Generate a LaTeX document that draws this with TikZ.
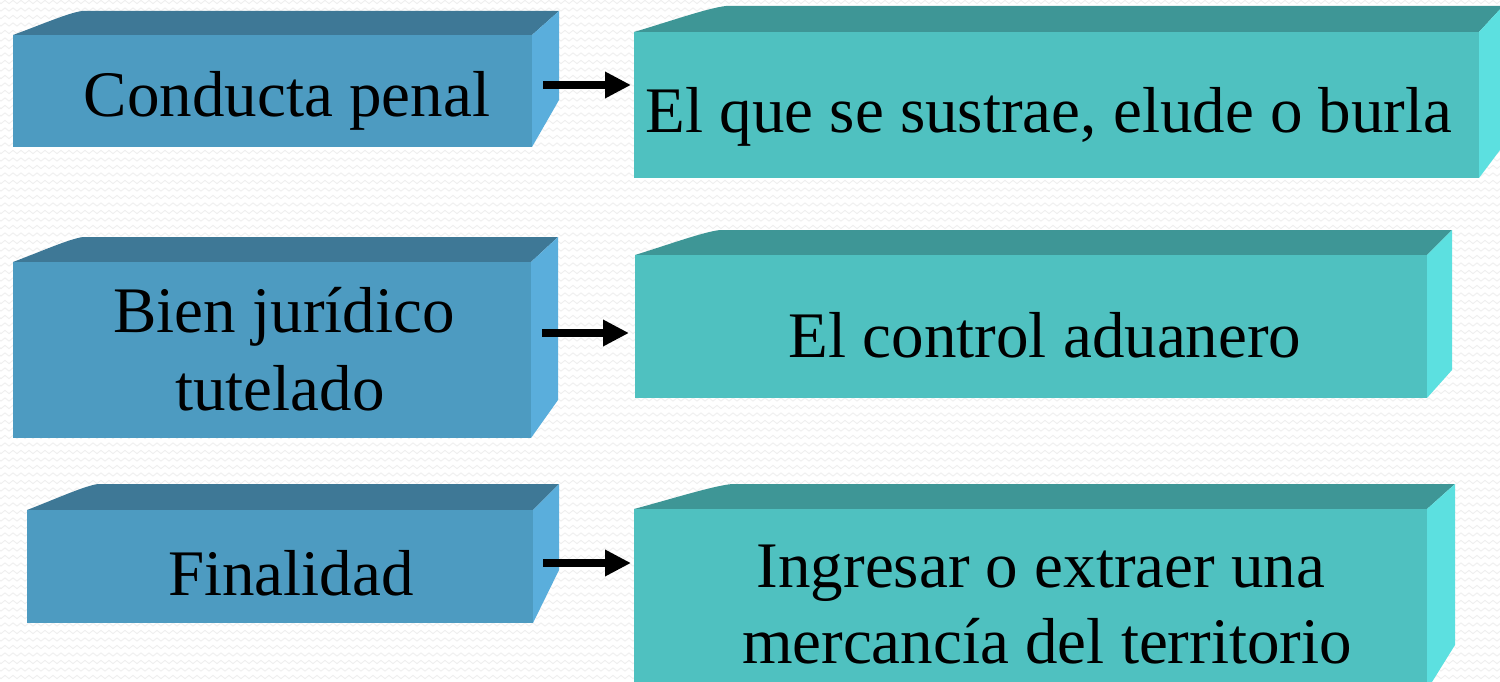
\documentclass[tikz,border=0pt]{standalone}
\usepackage{fontspec}
\setmainfont{Liberation Serif}
\usetikzlibrary{arrows.meta,decorations.pathmorphing}
\definecolor{lfront}{HTML}{4D9BC1}
\definecolor{ltop}{HTML}{3E7896}
\definecolor{lside}{HTML}{5AAEDC}
\definecolor{rfront}{HTML}{4FC1C0}
\definecolor{rtop}{HTML}{3E9696}
\definecolor{rside}{HTML}{5CE0E0}
\definecolor{bgzz}{HTML}{EFEFEF}
\tikzset{
  leftcol/.style={frontface/.style={fill=lfront},topface/.style={fill=ltop},sideface/.style={fill=lside}},
  rightcol/.style={frontface/.style={fill=rfront},topface/.style={fill=rtop},sideface/.style={fill=rside}},
  label/.style={font=\fontsize{65}{78}\selectfont, anchor=base, inner sep=0pt, text=black},
  arr/.style={line width=8pt, -{Triangle[length=26pt,width=25pt]}, black},
  bgline/.style={draw=bgzz, line width=0.9pt, decorate, decoration={zigzag, segment length=8pt, amplitude=1.6pt}},
}
% #1 name, #2 x1, #3 y1, #4 x2, #5 y2 (front face), #6 x of back-left top, #7 y of back top, #8 x of back right, #9 y of back bottom right
\newcommand{\cuboface}[9]{%
  \fill[topface] (#2,-#3) .. controls ({#2+0.4*(#6-#2)},{-#3+0.42*(#3-#7)}) and ({#2+0.8*(#6-#2)},{-#7-0.08*(#3-#7)}) .. (#6,-#7) -- (#8,-#7) -- (#4,-#3) -- cycle;
  \fill[sideface] (#4,-#3) -- (#8,-#7) -- (#8,-#9) -- (#4,-#5) -- cycle;
  \node[frontface, inner sep=0pt, outer sep=0pt, anchor=north west,
        minimum width={(#4-#2)*1pt}, minimum height={(#5-#3)*1pt}] (#1) at (#2,-#3) {};
}
\begin{document}
\begin{tikzpicture}[x=1pt,y=1pt]
\useasboundingbox (0,0) rectangle (1500,-682);
\clip (0,0) rectangle (1500,-682);
\fill[white] (0,0) rectangle (1500,-682);
\foreach \yy in {2,9.5,...,690} {
  \draw[bgline] (-5,-\yy) -- (1510,-\yy);
}
% left boxes
\begin{scope}[leftcol]
\cuboface{f1}{13}{35}{532}{147}{82}{11}{559}{100}
\cuboface{f3}{13}{262}{531}{438}{83}{237}{558}{400}
\cuboface{f5}{27}{510}{533}{623}{98}{484}{559}{570}
\end{scope}
% right boxes
\begin{scope}[rightcol]
\cuboface{f2}{634}{32}{1479}{178}{726}{6}{1503}{146}
\cuboface{f4}{635}{255}{1427}{398}{720}{230}{1452}{370}
\cuboface{f6}{634}{509}{1427}{690}{732}{484}{1455}{645}
\end{scope}
% texts
\node[label] (t1) at (287,-117) {Conducta penal};
\node[label] (t2) at (1049,-133) {El que se sustrae, elude o burla};
\node[label] (t3a) at (284,-332) {Bien jurídico};
\node[label] (t3b) at (280,-410) {tutelado};
\node[label] (t4) at (1045,-357) {El control aduanero};
\node[label] (t5) at (291,-595) {Finalidad};
\node[label] (t6a) at (1041,-587) {Ingresar o extraer una};
\node[label] (t6b) at (1047,-663) {mercancía del territorio};
% arrows
\coordinate (a1) at (543,-85);
\coordinate (a2) at (542,-333);
\coordinate (a3) at (543,-563);
\draw[arr, shorten >=3pt] (a1) -- (a1 -| f2.west);
\draw[arr, shorten >=6pt] (a2) -- (a2 -| f4.west);
\draw[arr, shorten >=3pt] (a3) -- (a3 -| f6.west);
\end{tikzpicture}
\end{document}
